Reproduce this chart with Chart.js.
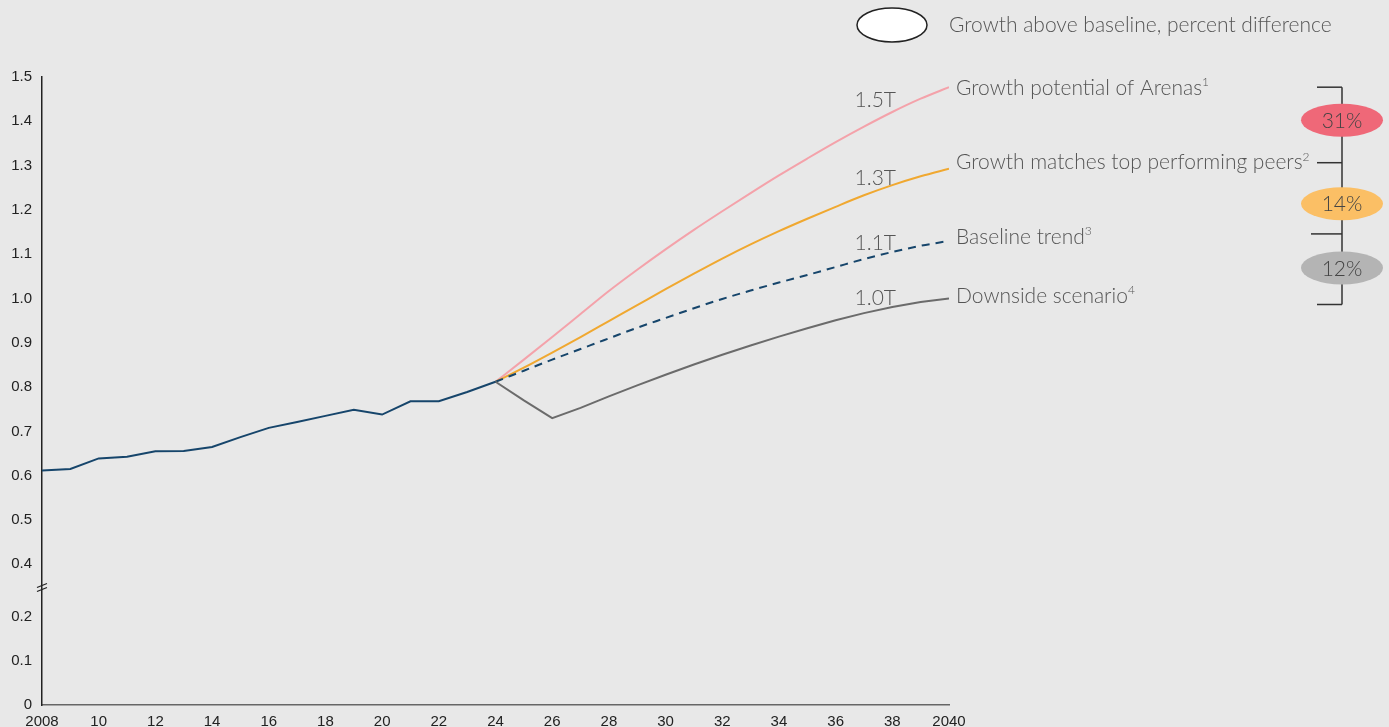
<!DOCTYPE html>
<html>
<head>
<meta charset="utf-8">
<script src="https://cdn.jsdelivr.net/npm/chart.js@4.4.1/dist/chart.umd.min.js"></script>
<style>
  html, body { margin: 0; padding: 0; background: #e8e8e8; overflow: hidden; }
  #wrap { position: relative; width: 1389px; height: 727px; }
</style>
</head>
<body>
<div id="wrap"><canvas id="chart"></canvas></div>
<script>
// DATA
const histYears = [2008, 2009, 2010, 2011, 2012, 2013, 2014, 2015, 2016, 2017, 2018, 2019, 2020, 2021, 2022, 2023, 2024];
const histValues = [0.612, 0.615, 0.639, 0.643, 0.655, 0.656, 0.665, 0.687, 0.708, 0.721, 0.735, 0.749, 0.738, 0.768, 0.768, 0.789, 0.812];

const projYears = [2024, 2025, 2026, 2027, 2028, 2029, 2030, 2031, 2032, 2033, 2034, 2035, 2036, 2037, 2038, 2039, 2040];
const arenas   = [0.812, 0.862, 0.913, 0.965, 1.017, 1.065, 1.111, 1.155, 1.197, 1.238, 1.278, 1.316, 1.353, 1.388, 1.421, 1.451, 1.477];
const peers    = [0.812, 0.844, 0.878, 0.913, 0.949, 0.985, 1.021, 1.056, 1.090, 1.122, 1.152, 1.180, 1.207, 1.233, 1.256, 1.276, 1.293];
const baseline = [0.812, 0.837, 0.862, 0.886, 0.910, 0.934, 0.956, 0.978, 0.999, 1.018, 1.036, 1.053, 1.071, 1.089, 1.105, 1.119, 1.130];
const downside = [0.812, 0.770, 0.730, 0.753, 0.779, 0.804, 0.828, 0.851, 0.873, 0.894, 0.914, 0.933, 0.951, 0.967, 0.981, 0.992, 1.000];

const yTicks = [0, 0.1, 0.2, 0.4, 0.5, 0.6, 0.7, 0.8, 0.9, 1.0, 1.1, 1.2, 1.3, 1.4, 1.5];
const seriesNames = ['Growth potential of Arenas', 'Growth matches top performing peers', 'Baseline trend', 'Downside scenario'];
const footnotes = ['1', '2', '3', '4'];
const endLabels = ['1.5T', '1.3T', '1.1T', '1.0T'];
const pctLabels = ['31%', '14%', '12%'];
const legendText = 'Growth above baseline, percent difference';

// broken axis: 0.2 -> 0.4 squeezed
const GAP = 0.0824;
const toAxis = v => (v >= 0.4 ? v - GAP : v);
const fromAxis = a => (a > 0.25 ? a + GAP : a);

const pts = (xs, ys) => xs.map((x, i) => ({ x: x, y: toAxis(ys[i]) }));

const COLORS = {
  hist: '#16456b',
  arenas: '#f4a2aa',
  peers: '#f0a830',
  baseline: '#16456b',
  downside: '#6b6b6b'
};

const TEXT = '#555555';
const LABEL_FONT = '300 21px Lato';

const overlay = {
  id: 'overlay',
  afterDraw(chart) {
    const ctx = chart.ctx;
    const xs = chart.scales.x, ys = chart.scales.y;
    ctx.save();

    // axis break marks
    const by = ys.getPixelForValue(0.272);
    const ax = xs.left;
    ctx.strokeStyle = '#222';
    ctx.lineWidth = 1.2;
    [0, 4].forEach(d => {
      ctx.beginPath();
      ctx.moveTo(ax - 5, by + 3 + d);
      ctx.lineTo(ax + 5, by - 1 + d);
      ctx.stroke();
    });

    // legend
    ctx.beginPath();
    ctx.ellipse(892, 25, 35, 17, 0, 0, Math.PI * 2);
    ctx.fillStyle = '#ffffff';
    ctx.fill();
    ctx.strokeStyle = '#222';
    ctx.lineWidth = 1.5;
    ctx.stroke();
    ctx.font = LABEL_FONT;
    ctx.fillStyle = TEXT;
    ctx.textBaseline = 'middle';
    ctx.textAlign = 'left';
    ctx.fillText(legendText, 949, 25);

    // series end labels
    const ends = [arenas, peers, baseline, downside].map(s => ys.getPixelForValue(toAxis(s[s.length - 1])));
    const nameOff = [1, -6, -4, -2];
    const valOff = [13, 10, 2, 0];
    const lx = xs.getPixelForValue(2040) + 7;
    const vx = xs.getPixelForValue(2037.4);
    seriesNames.forEach((name, i) => {
      const y = ends[i] + nameOff[i];
      ctx.font = LABEL_FONT;
      ctx.fillStyle = TEXT;
      ctx.textAlign = 'left';
      ctx.fillText(name, lx, y);
      const w = ctx.measureText(name).width;
      ctx.font = '300 12px Lato';
      ctx.fillText(footnotes[i], lx + w, y - 6);
      ctx.font = LABEL_FONT;
      ctx.textAlign = 'center';
      ctx.fillText(endLabels[i], vx, ends[i] + valOff[i]);
    });

    // bracket with percentage ovals
    const bx = 1342;
    const tickOff = [0, -6, -7, 6];
    const tys = ends.map((e, i) => e + tickOff[i]);
    ctx.strokeStyle = '#333';
    ctx.lineWidth = 1.5;
    ctx.beginPath();
    ctx.moveTo(bx, tys[0]);
    ctx.lineTo(bx, tys[3]);
    ctx.stroke();
    tys.forEach((ty, i) => {
      ctx.beginPath();
      ctx.moveTo(i === 2 ? 1311 : 1317, ty);
      ctx.lineTo(bx, ty);
      ctx.stroke();
    });
    const ovalColors = ['#ef6878', '#fbbf65', '#b4b4b4'];
    const ovalY = [tys[0] + 33, tys[1] + 41, tys[2] + 34];
    pctLabels.forEach((t, i) => {
      ctx.beginPath();
      ctx.ellipse(bx, ovalY[i], 41, 16.5, 0, 0, Math.PI * 2);
      ctx.fillStyle = ovalColors[i];
      ctx.fill();
      ctx.font = LABEL_FONT;
      ctx.fillStyle = '#444';
      ctx.textAlign = 'center';
      ctx.fillText(t, bx, ovalY[i] + 1);
    });

    ctx.restore();
  }
};

const line = (data, color, extra) => Object.assign({
  data: data,
  borderColor: color,
  borderWidth: 2,
  pointRadius: 0,
  fill: false,
  tension: 0
}, extra || {});

const cfg = {
  type: 'line',
  data: {
    datasets: [
      line(pts(histYears, histValues), COLORS.hist),
      line(pts(projYears, downside), COLORS.downside),
      line(pts(projYears, baseline), COLORS.baseline, { borderDash: [8, 6], cubicInterpolationMode: 'monotone' }),
      line(pts(projYears, peers), COLORS.peers, { cubicInterpolationMode: 'monotone' }),
      line(pts(projYears, arenas), COLORS.arenas, { cubicInterpolationMode: 'monotone' })
    ]
  },
  options: {
    responsive: true,
    maintainAspectRatio: false,
    animation: false,
    layout: { padding: { top: 77, right: 440, left: 0, bottom: 0 } },
    plugins: {
      legend: { display: false },
      tooltip: { enabled: false }
    },
    scales: {
      x: {
        type: 'linear',
        min: 2008,
        max: 2040,
        grid: { display: false, drawTicks: false },
        border: { display: true, color: '#666', width: 1.5 },
        ticks: {
          stepSize: 2,
          padding: 8,
          color: '#222',
          font: { family: 'Liberation Sans', size: 15 },
          maxRotation: 0,
          autoSkip: false,
          callback: v => (v === 2008 || v === 2040 ? String(v) : String(v % 100).padStart(2, '0'))
        },
        afterFit: s => { s.height = 22; }
      },
      y: {
        type: 'linear',
        min: 0,
        max: toAxis(1.5),
        grid: { display: false, drawTicks: false },
        border: { display: true, color: '#222', width: 1.5 },
        afterBuildTicks: s => { s.ticks = yTicks.map(v => ({ value: toAxis(v) })); },
        ticks: {
          padding: 10,
          color: '#222',
          font: { family: 'Liberation Sans', size: 15 },
          callback: v => {
            const r = Math.round(fromAxis(v) * 10) / 10;
            return r === 0 ? '0' : r.toFixed(1);
          }
        },
        afterFit: s => { s.width = 42; }
      }
    }
  },
  plugins: [overlay]
};

new Chart(document.getElementById('chart'), cfg);
</script>
</body>
</html>
